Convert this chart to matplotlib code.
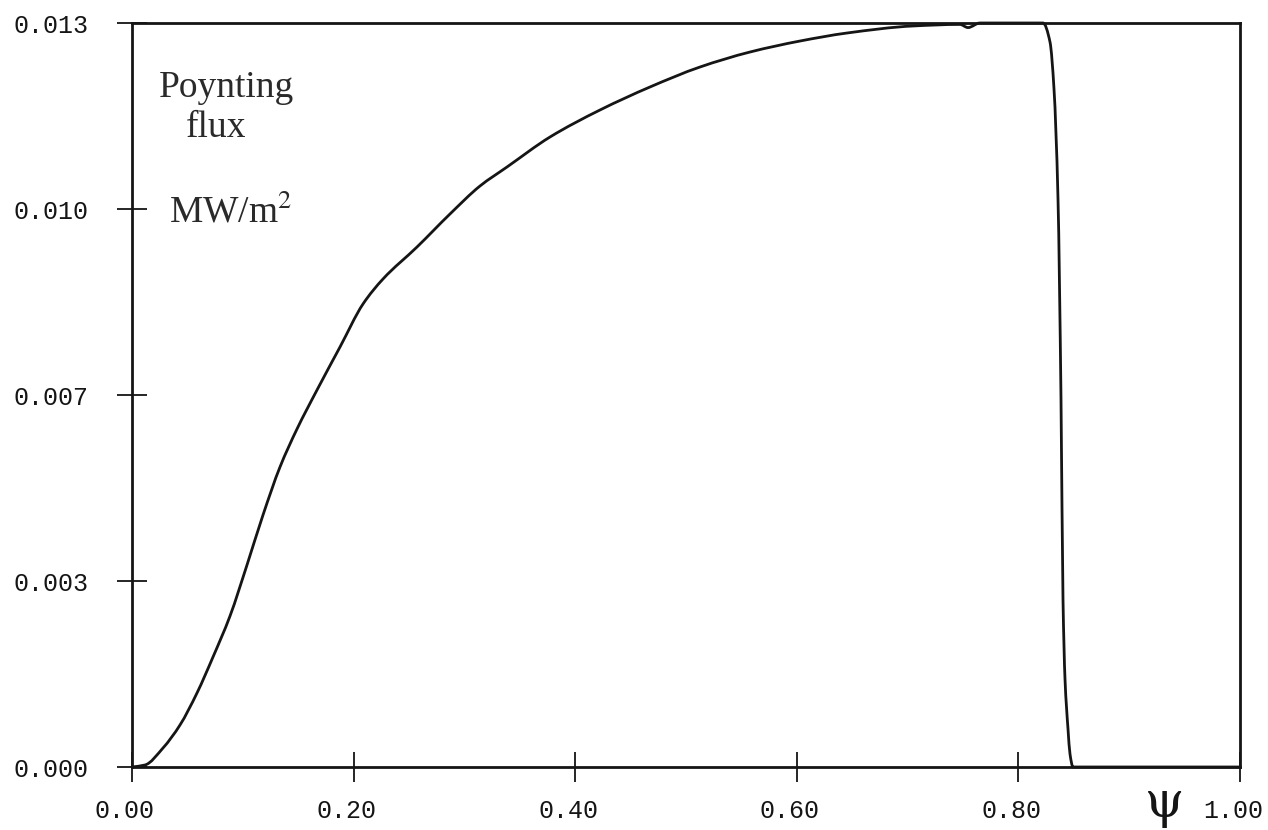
import numpy as np
import matplotlib
matplotlib.use("Agg")
import matplotlib.pyplot as plt
import matplotlib.transforms as mtransforms
from matplotlib.path import Path
from matplotlib.patches import PathPatch

# Poynting flux profile versus normalised flux coordinate psi
psi = [0.0, 0.01173, 0.02798, 0.04332, 0.05866, 0.07310, 0.08845, 0.10379,
       0.11823, 0.13357, 0.14892, 0.16697, 0.18773, 0.20848, 0.22653, 0.25722,
       0.28700, 0.31408, 0.33845, 0.37726, 0.42238, 0.46751, 0.51264, 0.55776,
       0.60289, 0.64531, 0.70487, 0.74729, 0.75451, 0.76534, 0.82220, 0.82852,
       0.83213, 0.83574, 0.83845, 0.84025, 0.84206, 0.84477, 0.84657, 0.84928,
       1.0]
flux = [0.0, 0.000035, 0.000332, 0.000734, 0.001293, 0.001922, 0.002638,
        0.003530, 0.004403, 0.005242, 0.005906, 0.006587, 0.007339, 0.008090,
        0.008527, 0.009086, 0.009663, 0.010152, 0.010484, 0.011008, 0.011480,
        0.011882, 0.012231, 0.012493, 0.012685, 0.012825, 0.012948, 0.012975,
        0.012920, 0.013000, 0.013000, 0.012668, 0.011847, 0.009925, 0.006430,
        0.002935, 0.001538, 0.000664, 0.000227, 0.0, 0.0]

x_ticks = [0.0, 0.2, 0.4, 0.6, 0.8, 1.0]
x_labels = ["0.00", "0.20", "0.40", "0.60", "0.80", "1.00"]
y_ticks = [0.0, 0.00325, 0.0065, 0.00975, 0.013]
y_labels = ["0.000", "0.003", "0.007", "0.010", "0.013"]

ink = "#151515"
W, H = 1268, 830
fig = plt.figure(figsize=(W / 100, H / 100), dpi=100)
ax = fig.add_axes([132 / W, 1 - 767 / H, (1240 - 132) / W, (767 - 23) / H])
ax.set_xlim(0.0, 1.0)
ax.set_ylim(0.0, 0.013)


def monotone_path(xs, ys):
    """Shape-preserving (Fritsch-Carlson) cubic through the points as Beziers."""
    x = np.asarray(xs, float)
    y = np.asarray(ys, float)
    h = np.diff(x)
    d = np.diff(y) / h
    m = np.zeros_like(y)
    m[0], m[-1] = d[0], d[-1]
    for i in range(1, len(x) - 1):
        if d[i - 1] * d[i] > 0:
            w1 = 2 * h[i] + h[i - 1]
            w2 = h[i] + 2 * h[i - 1]
            m[i] = (w1 + w2) / (w1 / d[i - 1] + w2 / d[i])
    verts = [(x[0], y[0])]
    codes = [Path.MOVETO]
    for i in range(len(x) - 1):
        verts += [(x[i] + h[i] / 3, y[i] + m[i] * h[i] / 3),
                  (x[i + 1] - h[i] / 3, y[i + 1] - m[i + 1] * h[i] / 3),
                  (x[i + 1], y[i + 1])]
        codes += [Path.CURVE4] * 3
    return Path(verts, codes)


curve = PathPatch(monotone_path(psi, flux), facecolor="none",
                  edgecolor=ink, lw=2.0, joinstyle="round", capstyle="round",
                  transform=ax.transData, clip_on=False)
ax.add_patch(curve)

for s in ax.spines.values():
    s.set_linewidth(2.0)
    s.set_color(ink)

tick_font = dict(family="Liberation Mono", size=18)
ax.set_xticks(x_ticks)
ax.set_xticklabels(x_labels, **tick_font)
ax.set_yticks(y_ticks)
ax.set_yticklabels(y_labels, **tick_font)
ax.tick_params(axis="x", direction="inout", length=22, width=1.3, color=ink,
               pad=12, labelcolor=ink)
ax.tick_params(axis="y", direction="inout", length=22, width=1.3, color=ink,
               pad=20, labelcolor=ink)

shift = mtransforms.ScaledTranslation(-7 / 100, 0, fig.dpi_scale_trans)
for lab in ax.get_xticklabels():
    lab.set_transform(lab.get_transform() + shift)

plt.rcParams["mathtext.fontset"] = "stix"
serif = dict(family="Liberation Serif", color="#2a2a2a")
fig.text(226 / W, 1 - 97 / H, "Poynting", fontsize=27, ha="center",
         va="baseline", **serif)
fig.text(216 / W, 1 - 137 / H, "flux", fontsize=27, ha="center",
         va="baseline", **serif)
fig.text(231 / W, 1 - 222 / H, r"MW/m$^{2}$", fontsize=27, ha="center",
         va="baseline", **serif)

fig.text(1164 / W, 1 - 803 / H, "ψ", fontsize=36, ha="center", va="center",
         family="DejaVu Serif", color=ink)

fig.savefig("out.png", dpi=100, facecolor="white")
